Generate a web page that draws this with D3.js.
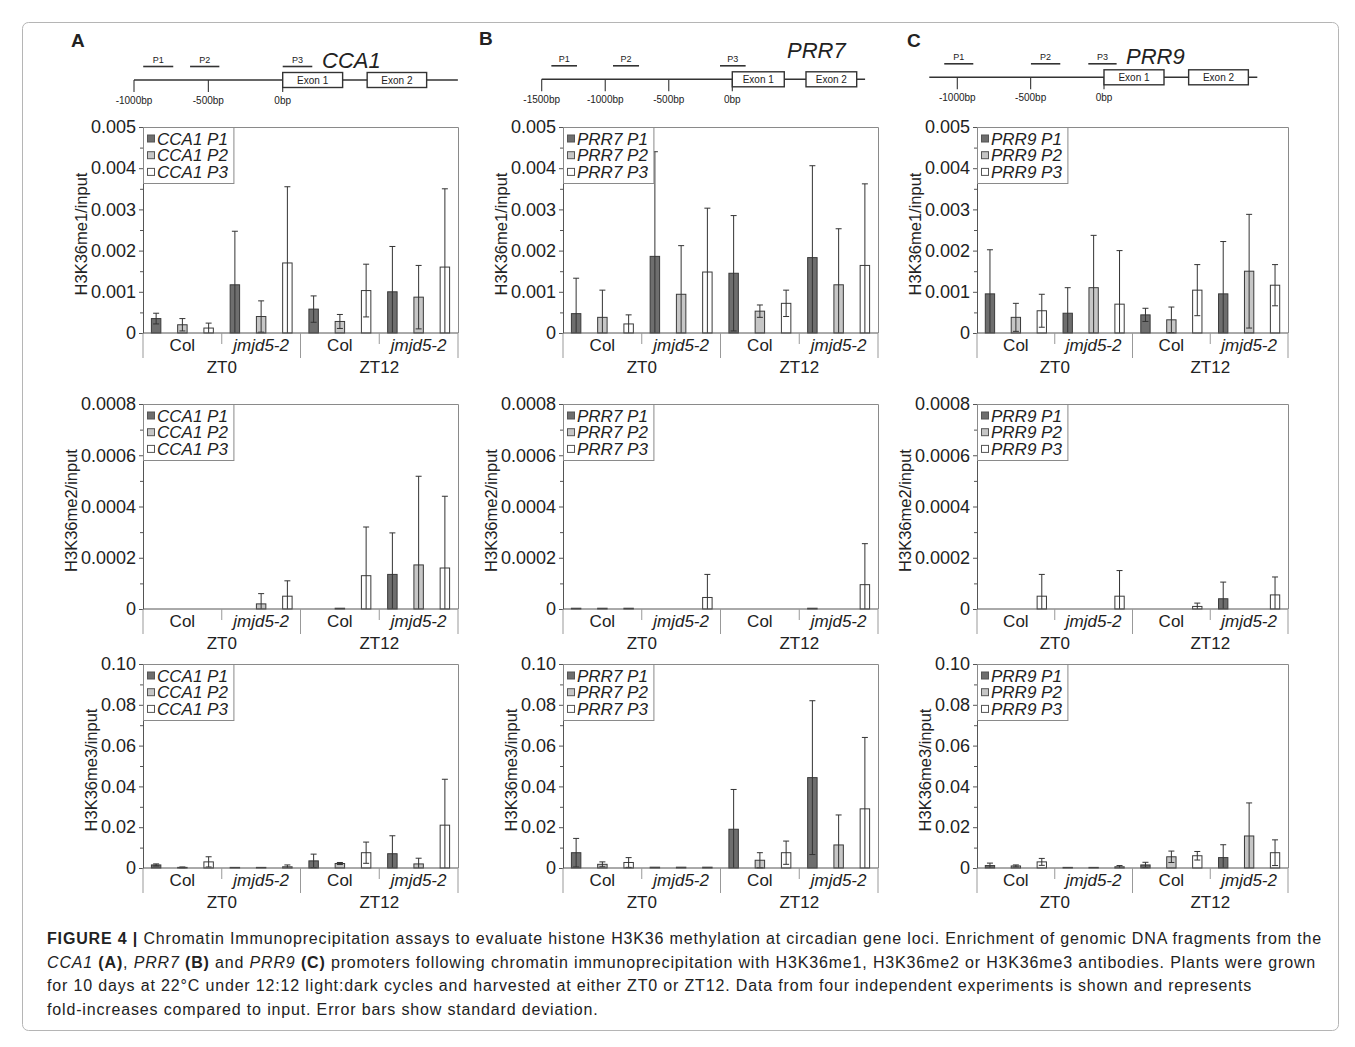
<!DOCTYPE html>
<html>
<head>
<meta charset="utf-8">
<script src="https://cdn.jsdelivr.net/npm/d3@7"></script>
<style>
body{margin:0;background:#fff;}
svg text{font-family:"Liberation Sans",Arial,Helvetica,sans-serif;fill:#222;}
</style>
</head>
<body>
<div id="canvas"></div>
<script>
// ---- categories ----
const zts = ['ZT0', 'ZT12'];
const genotypes = ['Col', 'jmjd5-2'];
const primers = ['P1', 'P2', 'P3'];
const genes = ['CCA1', 'PRR7', 'PRR9'];
const marks = ['H3K36me1', 'H3K36me2', 'H3K36me3'];

// ---- y ticks ----
const me1Ticks = [0, 0.001, 0.002, 0.003, 0.004, 0.005];
const me1Labels = ['0', '0.001', '0.002', '0.003', '0.004', '0.005'];
const me2Ticks = [0, 0.0002, 0.0004, 0.0006, 0.0008];
const me2Labels = ['0', '0.0002', '0.0004', '0.0006', '0.0008'];
const me3Ticks = [0, 0.02, 0.04, 0.06, 0.08, 0.10];
const me3Labels = ['0', '0.02', '0.04', '0.06', '0.08', '0.10'];

// ---- values: ZT0 Col P1-3, ZT0 jmjd5-2 P1-3, ZT12 Col P1-3, ZT12 jmjd5-2 P1-3 ----
const cca1Me1   = [0.00035, 0.0002, 0.00012, 0.00117, 0.0004, 0.0017, 0.00058, 0.00028, 0.00103, 0.001, 0.00087, 0.0016];
const cca1Me1Sd = [0.00013, 0.00015, 0.00012, 0.0013, 0.00038, 0.00185, 0.00032, 0.00017, 0.00064, 0.0011, 0.00077, 0.0019];
const cca1Me2   = [0, 0, 0, 0, 0.00002, 0.00005, 0, 0.000003, 0.00013, 0.000135, 0.000172, 0.00016];
const cca1Me2Sd = [0, 0, 0, 0, 0.00004, 0.00006, 0, 0, 0.00019, 0.000162, 0.000346, 0.00028];
const cca1Me3   = [0.0015, 0.0003, 0.003, 0.0003, 0.0003, 0.0006, 0.0035, 0.0022, 0.0075, 0.007, 0.002, 0.021];
const cca1Me3Sd = [0.0005, 0.0002, 0.0025, 0, 0, 0.0009, 0.0033, 0.0005, 0.0052, 0.0088, 0.0028, 0.0225];

const prr7Me1   = [0.00047, 0.00038, 0.00022, 0.00186, 0.00094, 0.00148, 0.00145, 0.00053, 0.00072, 0.00183, 0.00117, 0.00164];
const prr7Me1Sd = [0.00086, 0.00066, 0.00022, 0.00254, 0.00118, 0.00155, 0.0014, 0.00015, 0.00032, 0.00223, 0.00136, 0.00198];
const prr7Me2   = [0.000003, 0.000003, 0.000003, 0, 0, 0.000045, 0, 0, 0, 0.000003, 0, 0.000095];
const prr7Me2Sd = [0, 0, 0, 0, 0, 0.00009, 0, 0, 0, 0, 0, 0.00016];
const prr7Me3   = [0.0075, 0.0018, 0.0027, 0.0004, 0.0004, 0.0004, 0.019, 0.0038, 0.0075, 0.0443, 0.0113, 0.029];
const prr7Me3Sd = [0.007, 0.0012, 0.0024, 0, 0, 0, 0.0195, 0.0037, 0.0057, 0.0377, 0.0147, 0.035];

const prr9Me1   = [0.00095, 0.00038, 0.00054, 0.00048, 0.0011, 0.0007, 0.00044, 0.00032, 0.00104, 0.00095, 0.0015, 0.00116];
const prr9Me1Sd = [0.00107, 0.00034, 0.0004, 0.00062, 0.00127, 0.0013, 0.00016, 0.00031, 0.00062, 0.00127, 0.00138, 0.0005];
const prr9Me2   = [0, 0, 0.00005, 0, 0, 0.00005, 0, 0, 0.00001, 0.00004, 0, 0.000055];
const prr9Me2Sd = [0, 0, 0.000085, 0, 0, 0.0001, 0, 0, 0.000013, 0.000065, 0, 0.00007];
const prr9Me3   = [0.0012, 0.001, 0.003, 0.0003, 0.0003, 0.0006, 0.0015, 0.0055, 0.006, 0.0051, 0.0157, 0.0075];
const prr9Me3Sd = [0.0012, 0.0005, 0.0017, 0, 0, 0.0006, 0.0013, 0.0028, 0.0021, 0.0063, 0.0162, 0.0063];

// ---- gene diagrams (bp) ----
const cca1BpTicks = [-1000, -500, 0];
const cca1Line = [-1000, 1178];
const cca1Exons = [[0, 403], [568, 968]];
const cca1Primers = [[-938, -736], [-623, -426], [0, 199]];

const prr7BpTicks = [-1500, -1000, -500, 0];
const prr7Line = [-1500, 1045];
const prr7Exons = [[0, 409], [580, 979]];
const prr7Primers = [[-1424, -1222], [-939, -734], [-97, 105]];

const prr9BpTicks = [-1000, -500, 0];
const prr9Line = [-1191, 1045];
const prr9Exons = [[0, 409], [577, 984]];
const prr9Primers = [[-1089, -891], [-498, -298], [-107, 86]];

const captionLines = [
	[{t:'FIGURE 4 |', b:1}, {t:' Chromatin Immunoprecipitation assays to evaluate histone H3K36 methylation at circadian gene loci. Enrichment of genomic DNA fragments from the'}],
	[{t:'CCA1', i:1}, {t:' '}, {t:'(A)', b:1}, {t:', '}, {t:'PRR7', i:1}, {t:' '}, {t:'(B)', b:1}, {t:' and '}, {t:'PRR9', i:1}, {t:' '}, {t:'(C)', b:1}, {t:' promoters following chromatin immunoprecipitation with H3K36me1, H3K36me2 or H3K36me3 antibodies. Plants were grown'}],
	[{t:'for 10 days at 22°C under 12:12 light:dark cycles and harvested at either ZT0 or ZT12. Data from four independent experiments is shown and represents'}],
	[{t:'fold-increases compared to input. Error bars show standard deviation.'}]
];

// ---- layout ----
const W = 1355, H = 1047;
const fills = ['#6e6e6e', '#c6c6c6', '#ffffff'];
const panels = [
	{gene:'CCA1', letter:'A', lx:71, ly:47, left:143, width:315,
	 data:[[cca1Me1,cca1Me1Sd],[cca1Me2,cca1Me2Sd],[cca1Me3,cca1Me3Sd]],
	 dia:{ticks:cca1BpTicks, line:cca1Line, exons:cca1Exons, primers:cca1Primers, dom:[-1000,0], rng:[134,282.7], y:80, title:[322,68]}},
	{gene:'PRR7', letter:'B', lx:479, ly:45, left:563, width:315,
	 data:[[prr7Me1,prr7Me1Sd],[prr7Me2,prr7Me2Sd],[prr7Me3,prr7Me3Sd]],
	 dia:{ticks:prr7BpTicks, line:prr7Line, exons:prr7Exons, primers:prr7Primers, dom:[-1500,0], rng:[541.7,732.3], y:79.3, title:[787,58]}},
	{gene:'PRR9', letter:'C', lx:907, ly:47, left:977, width:311,
	 data:[[prr9Me1,prr9Me1Sd],[prr9Me2,prr9Me2Sd],[prr9Me3,prr9Me3Sd]],
	 dia:{ticks:prr9BpTicks, line:prr9Line, exons:prr9Exons, primers:prr9Primers, dom:[-1000,0], rng:[957.3,1104], y:77.3, title:[1126,64]}}
];
const rows = [
	{top:127, h:206, ticks:me1Ticks, labels:me1Labels},
	{top:404, h:205, ticks:me2Ticks, labels:me2Labels},
	{top:664, h:204, ticks:me3Ticks, labels:me3Labels}
];

const keys = [];
zts.forEach(z => genotypes.forEach(g => primers.forEach(p => keys.push(z + '|' + g + '|' + p))));

const svg = d3.select('#canvas').append('svg').attr('width', W).attr('height', H);

// figure frame
svg.append('rect').attr('x', 22.5).attr('y', 22.5).attr('width', 1316).attr('height', 1008)
	.attr('rx', 6).attr('fill', 'none').attr('stroke', '#b5b5b5');

panels.forEach(P => {
	// letter
	svg.append('text').attr('x', P.lx).attr('y', P.ly).attr('font-size', 19).attr('font-weight', 'bold').text(P.letter);

	// gene diagram
	const d = P.dia;
	const bp = d3.scaleLinear().domain(d.dom).range(d.rng);
	const g0 = svg.append('g').attr('class', 'diagram');
	g0.append('line').attr('x1', bp(d.line[0])).attr('x2', bp(d.line[1]))
		.attr('y1', d.y).attr('y2', d.y).attr('stroke', '#333').attr('stroke-width', 1.4);
	g0.selectAll('.bt').data(d.ticks).enter().append('line')
		.attr('x1', v => bp(v)).attr('x2', v => bp(v)).attr('y1', d.y).attr('y2', d.y + 12)
		.attr('stroke', '#333').attr('stroke-width', 1.1);
	g0.selectAll('.bl').data(d.ticks).enter().append('text')
		.attr('x', v => bp(v)).attr('y', d.y + 24).attr('text-anchor', 'middle')
		.attr('font-size', 10).attr('fill', '#333').text(v => v + 'bp');
	g0.selectAll('.ex').data(d.exons).enter().append('rect')
		.attr('x', e => bp(e[0])).attr('width', e => bp(e[1]) - bp(e[0]))
		.attr('y', d.y - 7.5).attr('height', 15).attr('fill', '#fff').attr('stroke', '#333').attr('stroke-width', 1.4);
	g0.selectAll('.et').data(d.exons).enter().append('text')
		.attr('x', e => (bp(e[0]) + bp(e[1])) / 2).attr('y', d.y + 3.5).attr('text-anchor', 'middle')
		.attr('font-size', 10).attr('fill', '#444').text((e, i) => 'Exon ' + (i + 1));
	g0.selectAll('.pr').data(d.primers).enter().append('line')
		.attr('x1', p => bp(p[0])).attr('x2', p => bp(p[1])).attr('y1', d.y - 13.5).attr('y2', d.y - 13.5)
		.attr('stroke', '#333').attr('stroke-width', 1.6);
	g0.selectAll('.pt').data(d.primers).enter().append('text')
		.attr('x', p => (bp(p[0]) + bp(p[1])) / 2).attr('y', d.y - 17).attr('text-anchor', 'middle')
		.attr('font-size', 9).attr('fill', '#444').text((p, i) => primers[i]);
	g0.append('text').attr('x', d.title[0]).attr('y', d.title[1]).attr('font-size', 22)
		.attr('font-style', 'italic').attr('fill', '#333').text(P.gene);

	// bar charts
	rows.forEach((R, ri) => {
		const [vals, sds] = P.data[ri];
		const g = svg.append('g').attr('transform', 'translate(' + P.left + ',' + R.top + ')');
		const w = P.width, h = R.h;
		const y = d3.scaleLinear().domain([0, R.ticks[R.ticks.length - 1]]).range([h, 0]);
		const x = d3.scaleBand().domain(keys).range([0, w]).paddingInner(0.64).paddingOuter(0.32);
		const xZt = d3.scaleBand().domain(zts).range([0, w]);
		const xGen = d3.scaleBand().domain(genotypes).range([0, xZt.bandwidth()]);

		// plot border top/right
		g.append('path').attr('d', 'M0,0.5H' + (w + 0.5) + 'V' + h).attr('fill', 'none').attr('stroke', '#8a8a8a');

		// minor ticks
		const minor = d3.range(R.ticks.length - 1).map(i => (R.ticks[i] + R.ticks[i + 1]) / 2);
		g.append('g').call(d3.axisLeft(y).tickValues(minor).tickSize(3).tickFormat(''))
			.call(a => a.select('.domain').remove())
			.selectAll('line').attr('stroke', '#555');

		const ya = g.append('g').attr('class', 'yaxis')
			.call(d3.axisLeft(y).tickValues(R.ticks).tickSize(4).tickSizeOuter(0).tickPadding(3)
				.tickFormat((t, i) => R.labels[i]));
		ya.select('.domain').attr('stroke', '#555');
		ya.selectAll('line').attr('stroke', '#555');
		ya.selectAll('text').attr('font-size', 18).attr('fill', '#222')
			.attr('font-family', '"Liberation Sans",Arial,sans-serif');

		// bars
		const items = keys.map((k, i) => ({k: k, v: vals[i], s: sds[i], p: i % 3}));
		g.selectAll('.bar').data(items).enter().append('rect')
			.attr('x', d => x(d.k)).attr('width', x.bandwidth())
			.attr('y', d => y(d.v)).attr('height', d => h - y(d.v))
			.attr('fill', d => fills[d.p]).attr('stroke', '#3a3a3a').attr('stroke-width', 1);

		// error bars
		const eb = items.filter(d => d.s > 0);
		const cx = d => x(d.k) + x.bandwidth() / 2;
		const hi = d => y(d.v + d.s);
		const lo = d => y(Math.max(0, d.v - d.s));
		g.selectAll('.ev').data(eb).enter().append('line')
			.attr('x1', cx).attr('x2', cx).attr('y1', hi).attr('y2', lo)
			.attr('stroke', '#333').attr('stroke-width', 1);
		g.selectAll('.ec').data(eb).enter().append('line')
			.attr('x1', d => cx(d) - 3).attr('x2', d => cx(d) + 3).attr('y1', hi).attr('y2', hi)
			.attr('stroke', '#333').attr('stroke-width', 1);
		g.selectAll('.ecl').data(eb.filter(d => d.v - d.s > 0)).enter().append('line')
			.attr('x1', d => cx(d) - 3).attr('x2', d => cx(d) + 3).attr('y1', lo).attr('y2', lo)
			.attr('stroke', '#333').attr('stroke-width', 1);

		// category axis (two tiers)
		const ca = g.append('g').attr('transform', 'translate(0,' + h + ')');
		ca.append('line').attr('x1', 0).attr('x2', w).attr('stroke', '#555');
		zts.forEach(z => {
			const zx = xZt(z);
			genotypes.forEach(gt => {
				ca.append('text').attr('x', zx + xGen(gt) + xGen.bandwidth() / 2).attr('y', 18)
					.attr('text-anchor', 'middle').attr('font-size', 17)
					.attr('font-style', gt === 'Col' ? 'normal' : 'italic').text(gt);
			});
			ca.append('line').attr('x1', zx + xGen('jmjd5-2')).attr('x2', zx + xGen('jmjd5-2'))
				.attr('y1', 0).attr('y2', 11).attr('stroke', '#999');
			ca.append('text').attr('x', zx + xZt.bandwidth() / 2).attr('y', 40)
				.attr('text-anchor', 'middle').attr('font-size', 17).text(z);
		});
		[0, xZt('ZT12'), w].forEach(v => {
			ca.append('line').attr('x1', v).attr('x2', v).attr('y1', 0).attr('y2', 25).attr('stroke', '#999');
		});

		// y title next to tick labels
		const bb = ya.node().getBBox();
		g.append('text').attr('transform', 'translate(' + (bb.x - 4) + ',' + (h / 2 + 4) + ') rotate(-90)')
			.attr('text-anchor', 'middle').attr('font-size', 16.5).text(marks[ri] + '/input');

		// legend
		const lg = g.append('g').attr('class', 'legend');
		const lbox = lg.append('rect').attr('x', 0.5).attr('y', 0.5).attr('height', 56).attr('fill', '#fff').attr('stroke', '#8a8a8a');
		primers.forEach((p, i) => {
			lg.append('rect').attr('x', 4.5).attr('y', 8 + i * 16.7).attr('width', 7).attr('height', 7)
				.attr('fill', fills[i]).attr('stroke', '#555');
			lg.append('text').attr('class', 'lt').attr('x', 14).attr('y', 17.5 + i * 16.7)
				.attr('font-size', 17).attr('font-style', 'italic').text(P.gene + ' ' + p);
		});
		let mw = 0;
		lg.selectAll('.lt').each(function(){ mw = Math.max(mw, this.getBBox().width); });
		lbox.attr('width', 14 + mw + 5);
	});
});

// caption: spread line 1 to the reference width, same spacing for all lines
const cap = svg.append('g').attr('class', 'caption');
const capTexts = captionLines.map((line, i) => {
	const t = cap.append('text').attr('x', 47).attr('y', 944 + i * 23.7).attr('font-size', 16);
	line.forEach(s => {
		t.append('tspan').attr('font-weight', s.b ? 'bold' : 'normal')
			.attr('font-style', s.i ? 'italic' : 'normal').text(s.t);
	});
	return t;
});
const first = capTexts[0].node();
const nat = first.getComputedTextLength();
const nch = first.textContent.length;
const ls = Math.max(0, (1275 - nat) / nch);
capTexts.forEach(t => t.attr('letter-spacing', ls));
</script>
</body>
</html>
